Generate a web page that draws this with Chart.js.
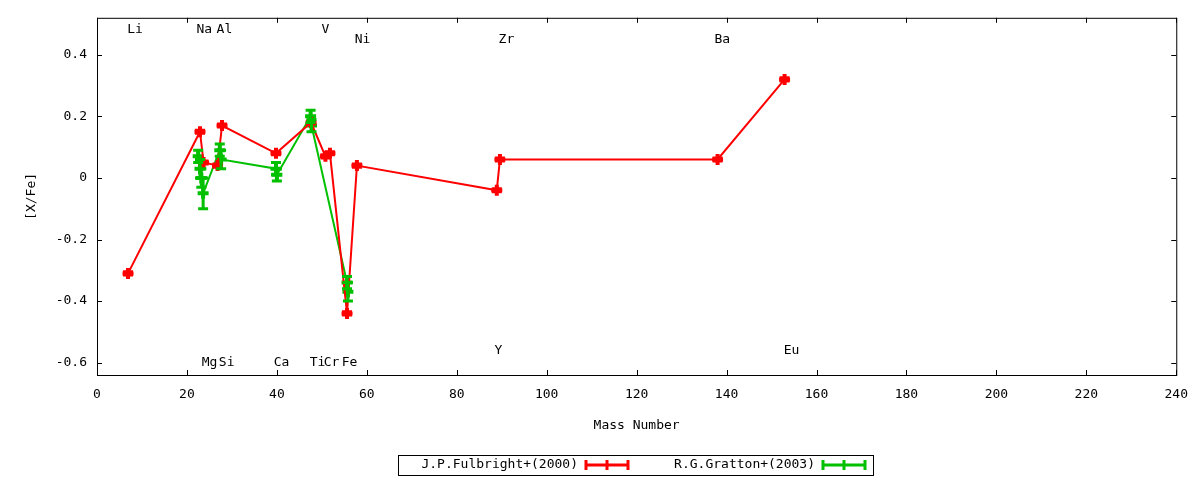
<!DOCTYPE html>
<html>
<head>
<meta charset="utf-8">
<script src="https://cdn.jsdelivr.net/npm/chart.js@4"></script>
<style>
  html, body { margin: 0; padding: 0; background: #fff; }
  #wrap { width: 1200px; height: 480px; }
</style>
</head>
<body>
<div id="wrap"><canvas id="abundChart" width="1200" height="480"></canvas></div>
<script>
// Fulbright+ (2000)
const redMass = [6.9, 22.9, 23.7, 26.8, 27.8, 39.8, 47.6, 50.8, 51.8, 55.6, 57.8, 88.9, 89.6, 138, 152.9];
const redVal  = [-0.31, 0.15, 0.05, 0.04, 0.17, 0.08, 0.18, 0.07, 0.08, -0.44, 0.04, -0.04, 0.06, 0.06, 0.32];
const redErr  = [0.005, 0.005, 0.005, 0.005, 0.005, 0.005, 0.005, 0.005, 0.005, 0.005, 0.005, 0.005, 0.005, 0.005, 0.005];

// Gratton+ (2003)
const greenMass = [22.5, 22.9, 23.2, 23.6, 27.3, 27.6, 39.8, 40.0, 47.5, 47.7, 55.6, 55.8];
const greenVal  = [0.07, 0.03, 0.0, -0.05, 0.09, 0.06, 0.03, 0.01, 0.20, 0.17, -0.34, -0.37];
const greenErr  = [0.02, 0.03, 0.03, 0.05, 0.02, 0.03, 0.02, 0.02, 0.02, 0.02, 0.02, 0.03];

const xTicks = [0, 20, 40, 60, 80, 100, 120, 140, 160, 180, 200, 220, 240];
const yTicks = [-0.6, -0.4, -0.2, 0, 0.2, 0.4];

// element labels (left edge in mass number, height in [X/Fe])
const elemName = ["Li", "Na", "Al", "V", "Ni", "Zr", "Ba", "Mg", "Si", "Ca", "Ti", "Cr", "Fe", "Y", "Eu"];
const elemX    = [6.7, 22.1, 26.6, 49.9, 57.3, 89.3, 137.3, 23.3, 27.1, 39.3, 47.3, 50.4, 54.4, 88.4, 152.7];
const elemY    = [0.48, 0.48, 0.48, 0.48, 0.45, 0.45, 0.45, -0.6, -0.6, -0.6, -0.6, -0.6, -0.6, -0.56, -0.56];

const FONT = "'DejaVu Sans Mono', monospace";
const RED = "#ff0000";
const GREEN = "#00c000";

const toPoints = (xs, ys) => xs.map((x, i) => ({ x: x, y: ys[i] }));

const gnuplotLook = {
  id: "gnuplotLook",
  afterDatasetsDraw(chart) {
    const ctx = chart.ctx;
    const xs = chart.scales.x;
    const ys = chart.scales.y;
    const area = chart.chartArea;

    // error bars
    const sets = [[redMass, redVal, redErr, RED], [greenMass, greenVal, greenErr, GREEN]];
    ctx.save();
    ctx.lineWidth = 3;
    sets.forEach(([m, v, e, col]) => {
      ctx.strokeStyle = col;
      m.forEach((mx, i) => {
        const px = xs.getPixelForValue(mx);
        const y1 = ys.getPixelForValue(v[i] - e[i]);
        const y2 = ys.getPixelForValue(v[i] + e[i]);
        ctx.beginPath();
        ctx.moveTo(px, y1); ctx.lineTo(px, y2);
        ctx.moveTo(px - 5, y1); ctx.lineTo(px + 5, y1);
        ctx.moveTo(px - 5, y2); ctx.lineTo(px + 5, y2);
        ctx.stroke();
      });
    });
    ctx.restore();

    // frame + inward ticks
    ctx.save();
    ctx.strokeStyle = "#000";
    ctx.lineWidth = 1;
    ctx.strokeRect(area.left + 0.5, area.top + 0.5, area.right - area.left, area.bottom - area.top);
    ctx.beginPath();
    xTicks.forEach(t => {
      const px = Math.round(xs.getPixelForValue(t)) + 0.5;
      ctx.moveTo(px, area.bottom); ctx.lineTo(px, area.bottom - 5);
      ctx.moveTo(px, area.top); ctx.lineTo(px, area.top + 5);
    });
    yTicks.forEach(t => {
      const py = Math.round(ys.getPixelForValue(t)) + 0.5;
      ctx.moveTo(area.left, py); ctx.lineTo(area.left + 5, py);
      ctx.moveTo(area.right, py); ctx.lineTo(area.right - 5, py);
    });
    ctx.stroke();

    // element labels
    ctx.fillStyle = "#000";
    ctx.font = "13px " + FONT;
    ctx.textAlign = "left";
    ctx.textBaseline = "middle";
    elemName.forEach((n, i) => {
      ctx.fillText(n, xs.getPixelForValue(elemX[i]), ys.getPixelForValue(elemY[i]));
    });
    ctx.restore();
  },
  afterDraw(chart) {
    // key box at the bottom
    const ctx = chart.ctx;
    ctx.save();
    ctx.strokeStyle = "#000";
    ctx.lineWidth = 1;
    ctx.strokeRect(398.5, 455.5, 475, 20);
    ctx.font = "13px " + FONT;
    ctx.textAlign = "right";
    ctx.textBaseline = "middle";
    ctx.fillStyle = "#000";
    const keys = [["J.P.Fulbright+(2000)", 578, RED], ["R.G.Gratton+(2003)", 815, GREEN]];
    keys.forEach(([txt, xr, col]) => {
      ctx.fillText(txt, xr, 465);
      const x1 = xr + 8, x2 = xr + 50, xm = (x1 + x2) / 2;
      ctx.strokeStyle = col;
      ctx.lineWidth = 3;
      ctx.beginPath();
      ctx.moveTo(x1, 465); ctx.lineTo(x2, 465);
      ctx.moveTo(x1, 460); ctx.lineTo(x1, 470);
      ctx.moveTo(x2, 460); ctx.lineTo(x2, 470);
      ctx.moveTo(xm, 460); ctx.lineTo(xm, 470);
      ctx.stroke();
    });
    ctx.restore();
  }
};

const ctx = document.getElementById("abundChart").getContext("2d");

new Chart(ctx, {
  type: "scatter",
  data: {
    datasets: [
      {
        label: "J.P.Fulbright+(2000)",
        data: toPoints(redMass, redVal),
        showLine: true,
        borderColor: RED,
        backgroundColor: RED,
        borderWidth: 2,
        pointStyle: "cross",
        pointRadius: 5.5,
        pointBorderWidth: 4,
        pointBorderColor: RED
      },
      {
        label: "R.G.Gratton+(2003)",
        data: toPoints(greenMass, greenVal),
        showLine: true,
        borderColor: GREEN,
        backgroundColor: GREEN,
        borderWidth: 2,
        pointStyle: "cross",
        pointRadius: 5.5,
        pointBorderWidth: 4,
        pointBorderColor: GREEN
      }
    ]
  },
  options: {
    responsive: false,
    animation: false,
    layout: { padding: { top: 17, right: 23, left: 0, bottom: 0 } },
    plugins: {
      legend: { display: false },
      tooltip: { enabled: false }
    },
    scales: {
      x: {
        type: "linear",
        min: 0,
        max: 240,
        afterBuildTicks: (s) => { s.ticks = xTicks.map(v => ({ value: v })); },
        afterFit: (s) => { s.height = 105; },
        grid: { display: false, drawTicks: false },
        border: { display: false },
        ticks: { color: "#000", padding: 12, maxRotation: 0, font: { family: FONT, size: 13 } },
        title: {
          display: true,
          text: "Mass Number",
          color: "#000",
          font: { family: FONT, size: 13 },
          padding: { top: 0, bottom: 47 }
        }
      },
      y: {
        type: "linear",
        min: -0.64,
        max: 0.52,
        afterBuildTicks: (s) => { s.ticks = yTicks.map(v => ({ value: v })); },
        afterFit: (s) => { s.width = 97; },
        grid: { display: false, drawTicks: false },
        border: { display: false },
        ticks: {
          color: "#000",
          padding: 10,
          font: { family: FONT, size: 13 },
          callback: (v) => String(Math.round(v * 10) / 10)
        },
        title: {
          display: true,
          text: "[X/Fe]",
          color: "#000",
          font: { family: FONT, size: 13 },
          padding: { top: 24, bottom: 0 }
        }
      }
    }
  },
  plugins: [gnuplotLook]
});
</script>
</body>
</html>
